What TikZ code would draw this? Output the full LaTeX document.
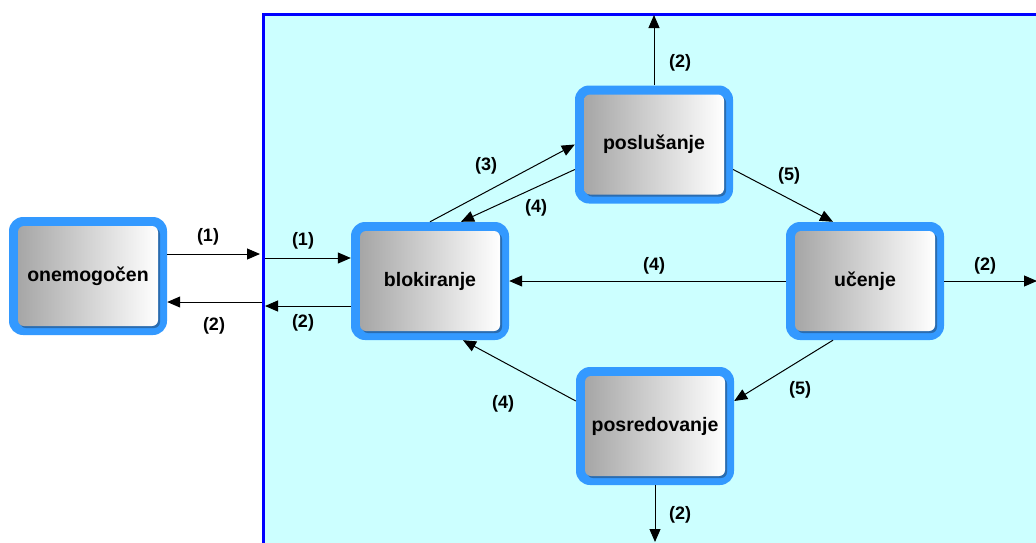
\documentclass[tikz,border=0pt]{standalone}
\usepackage{fontspec}
\setmainfont{Liberation Sans}
\usetikzlibrary{arrows.meta,calc}
\definecolor{bgcyan}{HTML}{CCFFFF}
\definecolor{frameblue}{HTML}{0000FF}
\definecolor{boxblue}{HTML}{3399FF}
\definecolor{shadowblue}{HTML}{2A6CB0}
\definecolor{gradgray}{HTML}{A6A6A6}
\begin{document}
\begin{tikzpicture}[x=1pt,y=-1pt,
  statebox/.style={rounded corners=14pt, fill=boxblue, minimum width=158pt, minimum height=118pt,
    inner sep=0pt, font=\fontsize{19.5}{21}\selectfont\bfseries,
    path picture={
      \fill[shadowblue, rounded corners=6pt]
        ([shift={(11pt,7pt)}]path picture bounding box.south west) rectangle
        ([shift={(-7pt,-11pt)}]path picture bounding box.north east);
      \shade[left color=gradgray, right color=white, rounded corners=6pt]
        ([shift={(9pt,9pt)}]path picture bounding box.south west) rectangle
        ([shift={(-9pt,-9pt)}]path picture bounding box.north east);
    }},
  arr/.style={-{Triangle[length=13pt,width=11pt]}, line width=1pt, black},
  lbl/.style={font=\fontsize{18}{20}\selectfont\bfseries, inner sep=0pt}
]
\useasboundingbox (0,0) rectangle (1036,542);
% frame
\fill[bgcyan] (263,14) rectangle (1040,546);
\draw[frameblue, line width=3pt] (263,546) -- (263,14) -- (1040,14);

% boxes
\node[statebox] (one) at (88,276) {onemogočen};
\node[statebox] (blk) at (430,281) {blokiranje};
\node[statebox] (pos) at (654,144.5) {poslušanje};
\node[statebox] (ucn) at (865,281) {učenje};
\node[statebox] (psr) at (655,426) {posredovanje};

% frame coordinates
\coordinate (f1) at (260,254);
\coordinate (f2) at (262,302);
\coordinate (f3) at (265,258);
\coordinate (f4) at (265,306);
\coordinate (ftop) at (654,15);
\coordinate (fright) at (1037,281);
\coordinate (fbot) at (655,542);

% connectors
\draw[arr] (one.east |- f1) -- (f1);
\draw[arr] (f2) -- (one.east |- f2);
\draw[arr] (f3) -- (blk.west |- f3);
\draw[arr] (blk.west |- f4) -- (f4);
\draw[arr] (blk.north) -- (pos.west);
\draw[arr] ([yshift=-25pt]pos.west) -- ([xshift=31pt]blk.north);
\draw[arr] (ucn.west) -- (blk.east);
\draw[arr] ([yshift=-25pt]pos.east) -- ([xshift=-32pt]ucn.north);
\draw[arr] ([xshift=-32pt]ucn.south) -- ([yshift=25pt]psr.east);
\draw[arr] ([yshift=25pt]psr.west) -- ([xshift=33pt]blk.south);
\draw[arr] (pos.north) -- (ftop);
\draw[arr] (ucn.east) -- (fright);
\draw[arr] (psr.south) -- (fbot);

% labels
\node[lbl] (l1) at (208,237) {(1)};
\node[lbl] (l2) at (214,326) {(2)};
\node[lbl] (l3) at (303,241) {(1)};
\node[lbl] (l4) at (303,323) {(2)};
\node[lbl] (l5) at (486,166) {(3)};
\node[lbl] (l6) at (536,208) {(4)};
\node[lbl] (l7) at (654,266) {(4)};
\node[lbl] (l8) at (789,176) {(5)};
\node[lbl] (l9) at (800,390) {(5)};
\node[lbl] (l10) at (503,404) {(4)};
\node[lbl] (l11) at (680,63) {(2)};
\node[lbl] (l12) at (985,266) {(2)};
\node[lbl] (l13) at (680,515) {(2)};
\end{tikzpicture}
\end{document}
